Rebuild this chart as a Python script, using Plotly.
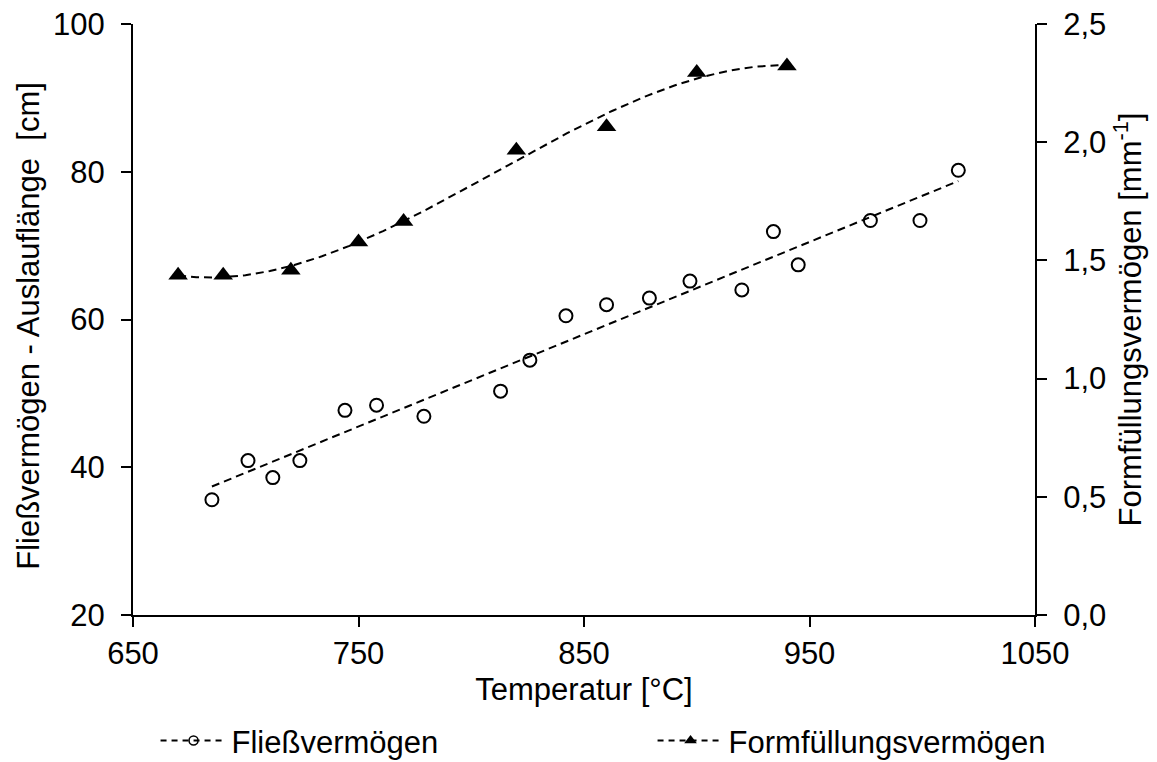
import numpy as np
import plotly.graph_objects as go

# Fließvermögen (Auslauflänge, cm) - left axis
fliess_temp = [685, 701, 712, 724, 744, 758, 779, 813, 826, 842, 860, 879,
               897, 920, 934, 945, 977, 999, 1016]
fliess_cm = [35.6, 40.9, 38.6, 40.9, 47.7, 48.4, 46.9, 50.3, 54.5, 60.5, 62.0,
             62.9, 65.2, 64.0, 71.9, 67.4, 73.4, 73.4, 80.2]

# Formfüllungsvermögen (mm^-1) - right axis
form_temp = [670, 690, 720, 750, 770, 820, 860, 900, 940]
form_val = [1.437, 1.437, 1.458, 1.578, 1.665, 1.966, 2.065, 2.295, 2.322]

FONT = "Arial, Liberation Sans, sans-serif"
DASH = "8px,5px"

# trend lines (linear / 3rd order polynomial fits, as in the original)
fx = np.linspace(min(fliess_temp), max(fliess_temp), 100)
fy = np.polyval(np.polyfit(fliess_temp, fliess_cm, 1), fx)
gx = np.linspace(min(form_temp), max(form_temp), 200)
gy = np.polyval(np.polyfit(form_temp, form_val, 3), gx)

fig = go.Figure()

fig.add_trace(go.Scatter(x=fx, y=fy, mode='lines', showlegend=False,
                         line=dict(color='black', width=2, dash=DASH)))
fig.add_trace(go.Scatter(x=fliess_temp, y=fliess_cm, mode='markers', showlegend=False,
                         marker=dict(symbol='circle-open', size=13, color='black',
                                     line=dict(width=2, color='black'))))
fig.add_trace(go.Scatter(x=gx, y=gy, mode='lines', yaxis='y2', showlegend=False,
                         line=dict(color='black', width=2, dash=DASH)))
fig.add_trace(go.Scatter(x=form_temp, y=form_val, mode='markers', yaxis='y2',
                         showlegend=False,
                         marker=dict(symbol='triangle-up', size=17, color='black')))

# legend entries (two separate legends, spaced like the original)
fig.add_trace(go.Scatter(x=[None], y=[None], mode='lines+markers', name='Fließvermögen',
                         legend='legend',
                         line=dict(color='black', width=2, dash='6px,5px'),
                         marker=dict(symbol='circle-open', size=9, color='black',
                                     line=dict(width=1.5, color='black'))))
fig.add_trace(go.Scatter(x=[None], y=[None], mode='lines+markers',
                         name='Formfüllungsvermögen', legend='legend2',
                         line=dict(color='black', width=2, dash='6px,5px'),
                         marker=dict(symbol='triangle-up', size=11, color='black')))

axis_common = dict(showgrid=False, zeroline=False, showline=True, linecolor='black',
                   linewidth=2, ticks='outside', ticklen=10, tickwidth=2,
                   tickcolor='black', automargin=False, ticklabeloverflow='allow',
                   tickfont=dict(family=FONT, size=31, color='black'))

legend_common = dict(orientation='h', xanchor='left', yref='container',
                     y=0.028, yanchor='middle',
                     itemwidth=66, font=dict(family=FONT, size=31),
                     bgcolor='rgba(0,0,0,0)')

# page body has an 8px margin, so the figure is 8px smaller than the window
fig.update_layout(
    width=1149, height=754,
    plot_bgcolor='white', paper_bgcolor='white',
    separators=',.',
    font=dict(family=FONT, size=31, color='black'),
    margin=dict(l=125, r=122, t=16, b=147),
    xaxis=dict(range=[650, 1050], tickvals=[650, 750, 850, 950, 1050],
               ticklabelstandoff=0,
               title=dict(text='Temperatur [°C]', font=dict(size=31), standoff=8),
               **axis_common),
    yaxis=dict(range=[20, 100], dtick=20, ticklabelstandoff=10, **axis_common),
    yaxis2=dict(range=[0, 2.5], dtick=0.5, tickformat='.1f', overlaying='y',
                side='right', ticklabelstandoff=10,
                title=dict(text='Formfüllungsvermögen [mm<sup>-1</sup>]',
                           font=dict(size=31), standoff=14),
                **axis_common),
    legend=dict(x=0.025, **legend_common),
    legend2=dict(x=0.576, **legend_common),
    annotations=[dict(text='Fließvermögen - Auslauflänge  [cm]', textangle=-90,
                      xref='paper', yref='paper', x=-0.116, y=0.49,
                      xanchor='center', yanchor='middle', showarrow=False,
                      font=dict(family=FONT, size=31, color='black'))],
)

fig.write_html("out.html")
